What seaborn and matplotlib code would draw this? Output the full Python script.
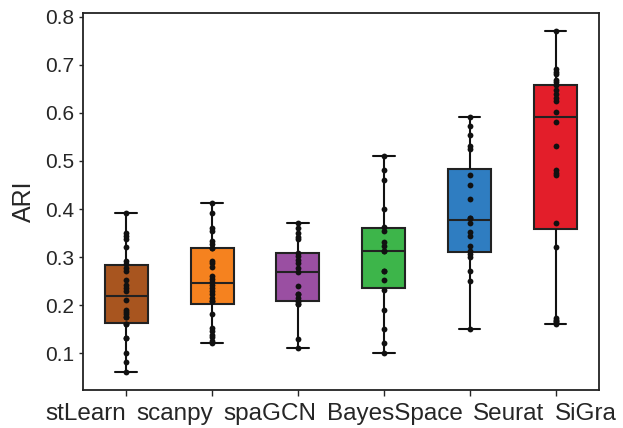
import pandas as pd
import matplotlib.pyplot as plt
import seaborn as sns

# ARI per method
# (a few repeated values stand for dots hidden behind each other)
methods = ['stLearn', 'scanpy', 'spaGCN', 'BayesSpace', 'Seurat', 'SiGra']

stlearn = [0.391, 0.351, 0.345, 0.338, 0.321, 0.292, 0.286, 0.278, 0.271, 0.252,
           0.243, 0.236, 0.229, 0.211, 0.191, 0.186, 0.181, 0.176, 0.176, 0.160,
           0.160, 0.132, 0.132, 0.101, 0.081, 0.061]
scanpy = [0.412, 0.391, 0.361, 0.354, 0.333, 0.328, 0.319, 0.319, 0.293, 0.287,
          0.280, 0.261, 0.255, 0.248, 0.243, 0.236, 0.229, 0.223, 0.216, 0.209,
          0.209, 0.181, 0.153, 0.146, 0.139, 0.133, 0.126, 0.121]
spagcn = [0.370, 0.360, 0.350, 0.342, 0.337, 0.309, 0.302, 0.295, 0.288, 0.278,
          0.269, 0.240, 0.223, 0.223, 0.216, 0.209, 0.202, 0.202, 0.209, 0.130,
          0.112]
bayesspace = [0.511, 0.481, 0.461, 0.401, 0.362, 0.354, 0.331, 0.323, 0.312, 0.312,
              0.271, 0.271, 0.252, 0.231, 0.191, 0.151, 0.122, 0.101]
seurat = [0.592, 0.572, 0.553, 0.532, 0.525, 0.470, 0.451, 0.421, 0.382, 0.382,
          0.371, 0.352, 0.344, 0.323, 0.312, 0.307, 0.300, 0.271, 0.250, 0.150]
sigra = [0.771, 0.691, 0.684, 0.680, 0.668, 0.664, 0.657, 0.648, 0.640, 0.631,
         0.624, 0.601, 0.580, 0.531, 0.482, 0.475, 0.470, 0.371, 0.321, 0.174,
         0.170, 0.167, 0.165, 0.162]

colors = ['#A8551F', '#F5821F', '#9A4FA2', '#3DB54A', '#2F7DC1', '#E31E2A']

values = [stlearn, scanpy, spagcn, bayesspace, seurat, sigra]
df = pd.DataFrame({
    'method': [m for m, v in zip(methods, values) for _ in v],
    'ARI': [x for v in values for x in v],
})

sns.set_style('white')
plt.rcParams['font.family'] = ['Liberation Sans', 'DejaVu Sans']

W, H = 623, 428
fig = plt.figure(figsize=(W / 100, H / 100), dpi=100)
ax = fig.add_axes([0.133, 0.089, 0.829, 0.880])

sns.boxplot(data=df, x='method', y='ARI', hue='method', order=methods,
            hue_order=methods, palette=colors, width=0.5, whis=(0, 100),
            showfliers=False, linewidth=1.5, linecolor='#222222',
            saturation=1, legend=False, ax=ax,
            whiskerprops={'color': '#111111'}, capprops={'color': '#111111'})
sns.stripplot(data=df, x='method', y='ARI', order=methods, jitter=False,
              color='#111111', size=4.2, ax=ax, zorder=5)

ax.set_ylim(0.024, 0.807)
ax.set_xlim(-0.505, 5.51)
ax.set_yticks([0.1, 0.2, 0.3, 0.4, 0.5, 0.6, 0.7, 0.8])
ax.set_yticklabels(['0.1', '0.2', '0.3', '0.4', '0.5', '0.6', '0.7', '0.8'])
ax.set_xticklabels([])
ax.set_xlabel('')
ax.set_ylabel('ARI', fontsize=18, labelpad=6)
ax.tick_params(axis='y', labelsize=15, length=3, width=1, direction='out', left=True)
ax.tick_params(axis='x', length=4, width=1, direction='out', bottom=True)
for s in ax.spines.values():
    s.set_linewidth(1.3)
    s.set_color('#222222')

# category names sit in one evenly spaced row under the axis, as in the original
names = [fig.text(0, 1 - 420 / H, m, fontsize=17.5, ha='left', va='baseline')
         for m in methods]
renderer = fig.canvas.get_renderer()
widths = [t.get_window_extent(renderer).width for t in names]
left, right = 45, 617
gap = (right - left - sum(widths)) / (len(names) - 1)
x = left
for t, w in zip(names, widths):
    t.set_x(x / W)
    x += w + gap

fig.savefig('out.png', dpi=100)
